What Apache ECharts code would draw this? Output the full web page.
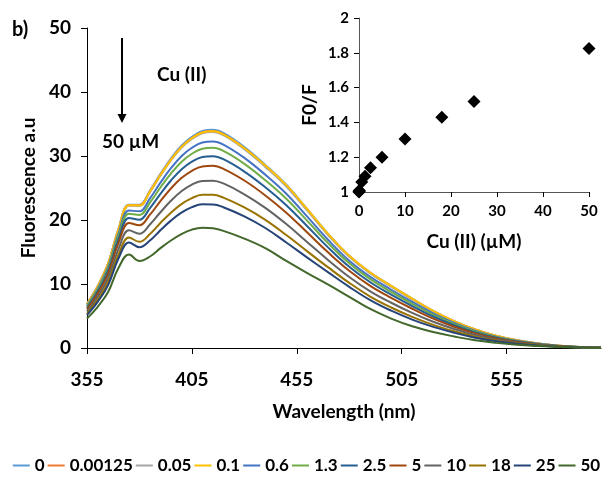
<!DOCTYPE html>
<html>
<head>
<meta charset="utf-8">
<script src="https://cdn.jsdelivr.net/npm/echarts@6/dist/echarts.min.js"></script>
<style>
  html, body { margin: 0; padding: 0; background: #fff; }
  #chart { width: 613px; height: 477px; }
</style>
</head>
<body>
<div id="chart"></div>
<script>
// wavelength (nm)
var wavelength = [355,360,365,370,375,380,385,390,395,400,405,410,415,420,430,440,450,460,470,480,490,500,510,520,530,540,550,560,570,580,590,600];
var xTicks = [355,405,455,505,555];

// fluorescence for each Cu(II) concentration (uM)
var cu0       = [6.9,9.6,13.2,18.6,22.4,22.4,24.6,27.2,29.6,31.6,33.0,33.9,34.1,33.6,31.4,28.6,25.5,21.7,17.8,14.4,11.8,9.7,7.7,5.8,4.2,2.9,1.9,1.2,0.7,0.35,0.15,0.05];
var cu0_00125 = [6.87,9.56,13.14,18.52,22.3,22.29,24.47,27.05,29.43,31.42,32.81,33.7,33.9,33.4,31.21,28.43,25.35,21.57,17.7,14.32,11.73,9.63,7.64,5.76,4.17,2.88,1.89,1.19,0.7,0.35,0.15,0.05];
var cu0_05    = [6.85,9.53,13.1,18.46,22.22,22.2,24.36,26.93,29.31,31.28,32.67,33.55,33.75,33.25,31.07,28.3,25.23,21.47,17.62,14.25,11.67,9.58,7.6,5.72,4.14,2.86,1.87,1.18,0.69,0.35,0.15,0.05];
var cu0_1     = [6.86,9.55,13.13,18.5,22.3,22.28,24.45,27.02,29.4,31.38,32.78,33.66,33.85,33.37,31.2,28.5,25.45,21.68,17.8,14.4,11.8,9.7,7.72,5.8,4.2,2.9,1.9,1.2,0.7,0.35,0.15,0.05];
var cu0_6     = [6.63,9.22,12.67,17.88,21.48,21.36,23.38,25.83,28.09,29.97,31.29,32.12,32.28,31.79,29.71,27.07,24.1,20.52,16.87,13.64,11.13,9.1,7.19,5.41,3.92,2.7,1.77,1.12,0.65,0.33,0.14,0.05];
var cu1_3     = [6.48,9.01,12.38,17.48,20.97,20.79,22.72,25.08,27.26,29.07,30.35,31.14,31.28,30.8,28.78,26.22,23.32,19.87,16.35,13.23,10.76,8.77,6.91,5.2,3.76,2.59,1.7,1.07,0.63,0.31,0.14,0.04];
var cu2_5     = [6.28,8.74,11.99,16.97,20.31,20.04,21.84,24.09,26.17,27.9,29.11,29.85,29.97,29.5,27.57,25.12,22.31,19.02,15.68,12.68,10.27,8.33,6.55,4.92,3.56,2.44,1.61,1.01,0.59,0.3,0.13,0.04];
var cu5       = [6.06,8.43,11.55,16.37,19.55,19.18,20.83,22.95,24.92,26.55,27.69,28.37,28.46,28.0,26.17,23.84,21.14,18.04,14.91,12.06,9.71,7.83,6.13,4.59,3.32,2.28,1.5,0.94,0.55,0.28,0.12,0.04];
var cu10      = [5.71,7.95,10.88,15.45,18.38,17.86,19.29,21.21,23.0,24.48,25.52,26.11,26.15,25.71,24.02,21.89,19.36,16.54,13.72,11.1,8.86,7.07,5.48,4.1,2.96,2.02,1.33,0.84,0.49,0.25,0.11,0.03];
var cu18      = [5.38,7.49,10.23,14.57,17.25,16.59,17.8,19.54,21.15,22.49,23.43,23.93,23.94,23.5,21.96,20.02,17.65,15.1,12.59,10.18,8.04,6.33,4.86,3.62,2.62,1.78,1.17,0.74,0.44,0.22,0.1,0.03];
var cu25      = [5.16,7.17,9.79,13.98,16.49,15.73,16.79,18.41,19.9,21.14,22.01,22.45,22.43,22.0,20.56,18.75,16.48,14.12,11.81,9.55,7.48,5.83,4.44,3.3,2.38,1.61,1.07,0.67,0.4,0.2,0.09,0.03];
var cu50      = [4.6,6.4,8.7,12.5,14.6,13.6,14.3,15.6,16.8,17.8,18.5,18.8,18.7,18.3,17.1,15.6,13.6,11.7,9.9,8.0,6.1,4.6,3.4,2.5,1.8,1.2,0.8,0.5,0.3,0.15,0.07,0.02];

var seriesNames = ['0','0.00125','0.05','0.1','0.6','1.3','2.5','5','10','18','25','50'];
var seriesData = [cu0,cu0_00125,cu0_05,cu0_1,cu0_6,cu1_3,cu2_5,cu5,cu10,cu18,cu25,cu50];
var colors = ['#5B9BD5','#ED7D31','#A5A5A5','#FFC000','#4472C4','#70AD47','#255E91','#9E480E','#636363','#997300','#264478','#43682B'];

// inset: F0/F vs Cu(II)
var insetConc  = [0,0.00125,0.05,0.1,0.6,1.3,2.5,5,10,18,25,50];
var insetRatio = [1.0,1.003,1.008,1.006,1.058,1.09,1.14,1.2,1.305,1.43,1.52,1.825];

var font = 'Lato';
var myChart = echarts.init(document.getElementById('chart'));

function pairs(xs, ys){
    var out = [];
    for(var i = 0; i < xs.length; i++){
        out.push([xs[i], ys[i]]);
    }
    return out;
}

var series = [];
seriesData.forEach(function(d, i){
    series.push({
        name: seriesNames[i],
        type: 'line',
        xAxisIndex: 0,
        yAxisIndex: 0,
        symbol: 'none',
        smooth: 0.4,
        lineStyle: { width: 2, color: colors[i] },
        itemStyle: { color: colors[i] },
        data: pairs(wavelength, d)
    });
});
series.push({
    name: 'inset',
    type: 'scatter',
    xAxisIndex: 1,
    yAxisIndex: 1,
    symbol: 'diamond',
    symbolSize: 13,
    itemStyle: { color: '#000', opacity: 1 },
    data: pairs(insetConc, insetRatio)
});

var axisBlack = { lineStyle: { color: '#000', width: 1 } };

var option = {
    backgroundColor: '#fff',
    animation: false,
    color: colors,
    textStyle: { fontFamily: font },
    grid: [
        { left: 87, right: 12, top: 28, bottom: 129 },
        { left: 359, top: 18, width: 230, height: 174 }
    ],
    legend: {
        data: seriesNames,
        top: 452,
        left: 'center',
        icon: 'rect',
        itemWidth: 17,
        itemHeight: 2,
        itemGap: 3,
        textStyle: { fontFamily: font, fontWeight: 'bold', fontSize: 17, color: '#000' }
    },
    xAxis: [
        {
            gridIndex: 0,
            type: 'value',
            min: 355,
            max: 600,
            name: 'Wavelength (nm)',
            nameLocation: 'middle',
            nameGap: 54,
            nameTextStyle: { fontFamily: font, fontWeight: 'bold', fontSize: 19, color: '#000' },
            axisLine: axisBlack,
            axisTick: { show: true, length: 6, lineStyle: { color: '#000' }, customValues: xTicks },
            axisLabel: { margin: 22, fontFamily: font, fontWeight: 'bold', fontSize: 19, color: '#000', customValues: xTicks },
            splitLine: { show: false }
        },
        {
            gridIndex: 1,
            type: 'value',
            min: 0,
            max: 50,
            interval: 10,
            name: 'Cu (II) (µM)',
            nameLocation: 'middle',
            nameGap: 40,
            nameTextStyle: { fontFamily: font, fontWeight: 'bold', fontSize: 19, color: '#000' },
            axisLine: { lineStyle: { color: '#555', width: 1 } },
            axisTick: { show: true, length: 5, lineStyle: { color: '#000' } },
            axisLabel: { margin: 12, fontFamily: font, fontWeight: 'bold', fontSize: 15, color: '#000' },
            splitLine: { show: false }
        }
    ],
    yAxis: [
        {
            gridIndex: 0,
            type: 'value',
            min: 0,
            max: 50,
            interval: 10,
            name: 'Fluorescence a.u',
            nameLocation: 'middle',
            nameGap: 48,
            nameTextStyle: { fontFamily: font, fontWeight: 'bold', fontSize: 19, color: '#000' },
            axisLine: { show: true, lineStyle: { color: '#000', width: 1 } },
            axisTick: { show: true, length: 6, lineStyle: { color: '#000' } },
            axisLabel: { margin: 16, fontFamily: font, fontWeight: 'bold', fontSize: 19, color: '#000' },
            splitLine: { show: false }
        },
        {
            gridIndex: 1,
            type: 'value',
            min: 1,
            max: 2,
            interval: 0.2,
            name: 'F0/F',
            nameLocation: 'middle',
            nameGap: 40,
            nameTextStyle: { fontFamily: font, fontWeight: 'bold', fontSize: 19, color: '#000' },
            axisLine: { show: true, lineStyle: { color: '#555', width: 1 } },
            axisTick: { show: true, length: 5, lineStyle: { color: '#000' } },
            axisLabel: { margin: 10, fontFamily: font, fontWeight: 'bold', fontSize: 15, color: '#000' },
            splitLine: { show: false }
        }
    ],
    graphic: [
        { type: 'text', left: 12, top: 20, style: { text: 'b)', font: 'bold 20px Lato', fill: '#000' } },
        { type: 'text', left: 157, top: 65, style: { text: 'Cu (II)', font: 'bold 19px Lato', fill: '#000' } },
        { type: 'text', left: 102, top: 132, style: { text: '50 µM', font: 'bold 19px Lato', fill: '#000' } },
        { type: 'line', shape: { x1: 122, y1: 38, x2: 122, y2: 116 }, style: { stroke: '#000', lineWidth: 2 } },
        { type: 'polygon', shape: { points: [[117.5, 114], [126.5, 114], [122, 123]] }, style: { fill: '#000' } }
    ],
    series: series
};

myChart.setOption(option);
</script>
</body>
</html>
